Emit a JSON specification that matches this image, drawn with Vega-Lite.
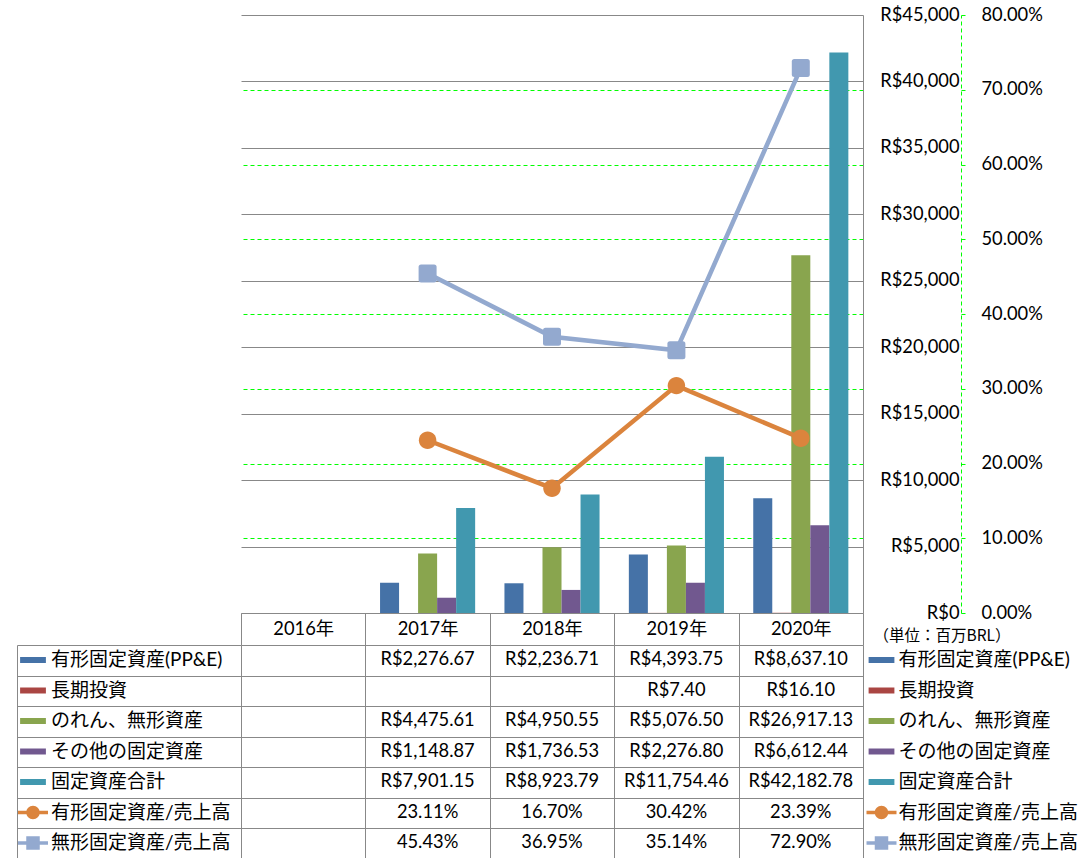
{
  "$schema": "https://vega.github.io/schema/vega-lite/v6.json",
  "background": "white",
  "padding": {"left": 16, "top": 5, "right": 4, "bottom": 0},
  "autosize": {"type": "pad"},
  "config": {
    "locale": {"number": {"decimal": ".", "thousands": ",", "grouping": [3], "currency": ["R$", ""]}},
    "view": {"stroke": null},
    "font": "Lato, Noto Sans CJK JP",
    "axis": {"labelFont": "Lato, Noto Sans CJK JP", "labelFontSize": 18.3, "labelColor": "#000", "labelFlush": false, "labelOverlap": false},
    "legend": {"labelFont": "Lato, Noto Sans CJK JP", "labelFontSize": 19, "labelColor": "#000", "labelLimit": 400, "padding": 0}
  },
  "datasets": {
    "d": [
      {"year": "2017年", "series": "有形固定資産(PP&E)", "kind": "money", "value": 2276.67},
      {"year": "2018年", "series": "有形固定資産(PP&E)", "kind": "money", "value": 2236.71},
      {"year": "2019年", "series": "有形固定資産(PP&E)", "kind": "money", "value": 4393.75},
      {"year": "2020年", "series": "有形固定資産(PP&E)", "kind": "money", "value": 8637.10},
      {"year": "2019年", "series": "長期投資", "kind": "money", "value": 7.40},
      {"year": "2020年", "series": "長期投資", "kind": "money", "value": 16.10},
      {"year": "2017年", "series": "のれん、無形資産", "kind": "money", "value": 4475.61},
      {"year": "2018年", "series": "のれん、無形資産", "kind": "money", "value": 4950.55},
      {"year": "2019年", "series": "のれん、無形資産", "kind": "money", "value": 5076.50},
      {"year": "2020年", "series": "のれん、無形資産", "kind": "money", "value": 26917.13},
      {"year": "2017年", "series": "その他の固定資産", "kind": "money", "value": 1148.87},
      {"year": "2018年", "series": "その他の固定資産", "kind": "money", "value": 1736.53},
      {"year": "2019年", "series": "その他の固定資産", "kind": "money", "value": 2276.80},
      {"year": "2020年", "series": "その他の固定資産", "kind": "money", "value": 6612.44},
      {"year": "2017年", "series": "固定資産合計", "kind": "money", "value": 7901.15},
      {"year": "2018年", "series": "固定資産合計", "kind": "money", "value": 8923.79},
      {"year": "2019年", "series": "固定資産合計", "kind": "money", "value": 11754.46},
      {"year": "2020年", "series": "固定資産合計", "kind": "money", "value": 42182.78},
      {"year": "2017年", "series": "有形固定資産/売上高", "kind": "ratio", "value": 0.2311},
      {"year": "2018年", "series": "有形固定資産/売上高", "kind": "ratio", "value": 0.1670},
      {"year": "2019年", "series": "有形固定資産/売上高", "kind": "ratio", "value": 0.3042},
      {"year": "2020年", "series": "有形固定資産/売上高", "kind": "ratio", "value": 0.2339},
      {"year": "2017年", "series": "無形固定資産/売上高", "kind": "ratio", "value": 0.4543},
      {"year": "2018年", "series": "無形固定資産/売上高", "kind": "ratio", "value": 0.3695},
      {"year": "2019年", "series": "無形固定資産/売上高", "kind": "ratio", "value": 0.3514},
      {"year": "2020年", "series": "無形固定資産/売上高", "kind": "ratio", "value": 0.7290}
    ]
  },
  "spacing": 32,
  "bounds": "flush",
  "resolve": {"scale": {"color": "independent"}, "legend": {"color": "independent"}},
  "vconcat": [
    {
      "name": "main",
      "width": 622,
      "height": 598,
      "data": {"name": "d"},
      "encoding": {
        "color": {
          "field": "series", "type": "nominal",
          "scale": {
            "domain": ["有形固定資産(PP&E)", "長期投資", "のれん、無形資産", "その他の固定資産", "固定資産合計", "有形固定資産/売上高", "無形固定資産/売上高"],
            "range": ["#4572A7", "#AA4643", "#89A54E", "#71588F", "#4198AF", "#DB843D", "#93A9CF"]
          },
          "legend": {
            "orient": "none", "legendX": 625.5, "legendY": 630, "title": null, "direction": "vertical",
            "symbolSize": 900, "symbolStrokeWidth": 0, "labelOffset": 2, "rowPadding": 5.5,
            "encode": {
              "symbols": {
                "update": {
                  "shape": [
                    {"test": "datum.value === '有形固定資産/売上高'", "value": "M-1,-0.12H1V0.12H-1Z M0.45,0A0.45,0.45 0 1,1 -0.45,0A0.45,0.45 0 1,1 0.45,0Z"},
                    {"test": "datum.value === '無形固定資産/売上高'", "value": "M-1,-0.12H1V0.12H-1Z M-0.45,-0.45H0.45V0.45H-0.45Z"},
                    {"value": "M-0.86,-0.2H0.86V0.2H-0.86Z"}
                  ],
                  "stroke": {"value": "transparent"},
                  "strokeWidth": {"value": 0},
                  "opacity": {"value": 1},
                  "size": {"value": 900}
                }
              }
            }
          }
        }
      },
      "layer": [
        {
          "transform": [{"filter": "datum.kind === 'money'"}],
          "mark": {"type": "bar"},
          "encoding": {
            "x": {
              "field": "year", "type": "nominal",
              "scale": {"domain": ["2016年", "2017年", "2018年", "2019年", "2020年"], "paddingInner": 0, "paddingOuter": 0},
              "axis": {
                "orient": "bottom", "title": null, "labelAngle": 0, "labelBaseline": "middle", "labelPadding": -16,
                "ticks": true, "tickSize": 32, "tickBand": "extent", "tickColor": "#888888", "tickWidth": 1,
                "domain": true, "domainColor": "#888888", "domainWidth": 1, "grid": false
              }
            },
            "xOffset": {
              "field": "series", "type": "nominal",
              "scale": {"domain": ["有形固定資産(PP&E)", "長期投資", "のれん、無形資産", "その他の固定資産", "固定資産合計"], "paddingInner": 0, "paddingOuter": 0.77}
            },
            "y": {
              "field": "value", "type": "quantitative",
              "scale": {"domain": [0, 45000], "nice": false, "zero": true},
              "axis": {
                "orient": "right", "values": [0, 5000, 10000, 15000, 20000, 25000, 30000, 35000, 40000, 45000],
                "format": "$,.0f", "labelAlign": "right", "labelBaseline": "middle", "labelPadding": 96,
                "ticks": false, "domain": true, "domainColor": "#888888", "grid": true, "gridColor": "#888888", "gridWidth": 1,
                "title": "（単位：百万BRL）", "titleAngle": 0, "titleX": 10, "titleY": 620, "titleAlign": "left", "titleBaseline": "middle",
                "titleFontSize": 15.5, "titleFontWeight": "normal", "titleFont": "Noto Sans CJK JP", "titleColor": "#000"
              }
            }
          }
        },
        {
          "transform": [{"filter": "datum.kind === 'ratio'"}],
          "encoding": {
            "x": {"field": "year", "type": "nominal"},
            "y": {
              "field": "value", "type": "quantitative",
              "scale": {"domain": [0, 0.8], "nice": false, "zero": true},
              "axis": {
                "orient": "right", "offset": 98, "values": [0, 0.1, 0.2, 0.3, 0.4, 0.5, 0.6, 0.7, 0.8],
                "format": ".2%", "labelAlign": "left", "labelBaseline": "middle", "labelPadding": 16,
                "ticks": true, "tickSize": 4, "tickColor": "#00FF00", "tickWidth": 1,
                "domain": true, "domainColor": "#00FF00", "domainDash": [4, 3], "domainWidth": 1,
                "grid": true, "gridColor": "#00FF00", "gridDash": [4, 3], "gridWidth": 1,
                "gridOpacity": {"condition": {"test": "datum.value === 0 || datum.value === 0.8", "value": 0}, "value": 1},
                "title": null
              }
            }
          },
          "layer": [
            {"mark": {"type": "line", "strokeWidth": 4.5}},
            {
              "mark": {"type": "point", "filled": true, "opacity": 1, "size": 324, "strokeWidth": 0},
              "encoding": {
                "shape": {
                  "field": "series", "type": "nominal", "legend": null,
                  "scale": {
                    "domain": ["有形固定資産/売上高", "無形固定資産/売上高"],
                    "range": [
                      "M0.97,0A0.97,0.97 0 1,1 -0.97,0A0.97,0.97 0 1,1 0.97,0Z",
                      "M-0.72,-1H0.72Q1,-1 1,-0.72V0.72Q1,1 0.72,1H-0.72Q-1,1 -1,0.72V-0.72Q-1,-1 -0.72,-1Z"
                    ]
                  }
                }
              }
            }
          ]
        }
      ],
      "resolve": {"scale": {"y": "independent"}, "axis": {"y": "independent"}}
    },
    {
      "name": "grid",
      "width": 622,
      "height": 213.5,
      "data": {"name": "d"},
      "encoding": {
        "x": {
          "field": "year", "type": "nominal",
          "scale": {"domain": ["2016年", "2017年", "2018年", "2019年", "2020年"], "paddingInner": 0, "paddingOuter": 0},
          "axis": {"orient": "top", "title": null, "labels": false, "ticks": false, "domain": false, "grid": true, "tickBand": "extent", "gridColor": "#888888", "gridWidth": 1}
        }
      },
      "layer": [
        {
          "transform": [{"filter": "datum.kind === 'money'"}],
          "mark": {"type": "text", "fontSize": 18.3, "color": "#000"},
          "encoding": {
            "y": {
              "field": "series", "type": "nominal",
              "scale": {"domain": ["有形固定資産(PP&E)", "長期投資", "のれん、無形資産", "その他の固定資産", "固定資産合計", "有形固定資産/売上高", "無形固定資産/売上高"], "paddingInner": 0, "paddingOuter": 0},
              "axis": {"orient": "left", "title": null, "labels": false, "domain": false, "ticks": true, "tickSize": 224, "tickBand": "extent", "tickColor": "#888888", "tickWidth": 1, "grid": true, "gridColor": "#888888", "gridWidth": 1}
            },
            "text": {"field": "value", "type": "quantitative", "format": "$,.2f"}
          }
        },
        {
          "transform": [{"filter": "datum.kind === 'ratio'"}],
          "mark": {"type": "text", "fontSize": 18.3, "color": "#000"},
          "encoding": {
            "y": {
              "field": "series", "type": "nominal",
              "axis": {"orient": "left", "offset": 224, "title": null, "labels": false, "ticks": false, "grid": false, "domain": true, "domainColor": "#888888", "domainWidth": 1}
            },
            "text": {"field": "value", "type": "quantitative", "format": ".2%"}
          }
        },
        {
          "mark": {"type": "point", "filled": true, "size": 0, "opacity": 0},
          "encoding": {
            "y": {"field": "series", "type": "nominal", "axis": null},
            "color": {
              "field": "series", "type": "nominal",
              "scale": {
                "domain": ["有形固定資産(PP&E)", "長期投資", "のれん、無形資産", "その他の固定資産", "固定資産合計", "有形固定資産/売上高", "無形固定資産/売上高"],
                "range": ["#4572A7", "#AA4643", "#89A54E", "#71588F", "#4198AF", "#DB843D", "#93A9CF"]
              },
              "legend": {
                "orient": "none", "legendX": -223, "legendY": 0, "title": null, "direction": "vertical",
                "symbolSize": 900, "symbolStrokeWidth": 0, "labelOffset": 3, "rowPadding": 5.5,
                "encode": {
                  "symbols": {
                    "update": {
                      "shape": [
                        {"test": "datum.value === '有形固定資産/売上高'", "value": "M-1,-0.12H1V0.12H-1Z M0.45,0A0.45,0.45 0 1,1 -0.45,0A0.45,0.45 0 1,1 0.45,0Z"},
                        {"test": "datum.value === '無形固定資産/売上高'", "value": "M-1,-0.12H1V0.12H-1Z M-0.45,-0.45H0.45V0.45H-0.45Z"},
                        {"value": "M-0.86,-0.2H0.86V0.2H-0.86Z"}
                      ],
                      "stroke": {"value": "transparent"},
                      "strokeWidth": {"value": 0},
                      "opacity": {"value": 1},
                      "size": {"value": 900}
                    }
                  }
                }
              }
            }
          }
        }
      ],
      "resolve": {"axis": {"y": "independent"}}
    }
  ]
}
